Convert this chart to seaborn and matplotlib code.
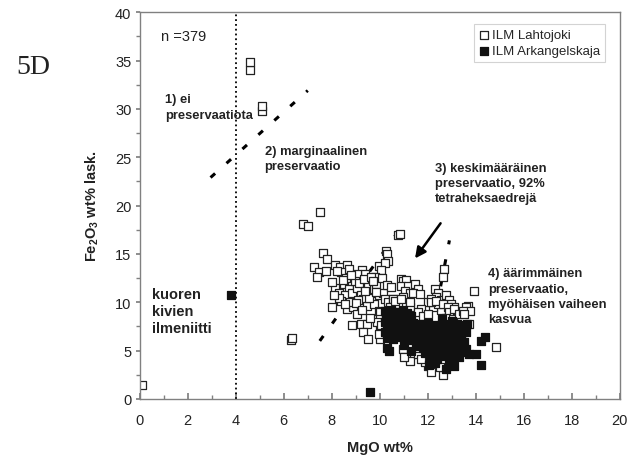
import pandas as pd
import seaborn as sns
import matplotlib.pyplot as plt
from matplotlib.ticker import MultipleLocator

sns.set_theme(style="white")
plt.rcParams['font.family'] = ['Liberation Sans', 'DejaVu Sans']
plt.rcParams['mathtext.fontset'] = 'custom'
plt.rcParams['mathtext.rm'] = 'Liberation Sans'
plt.rcParams['mathtext.bf'] = 'Liberation Sans:bold'

# ILM Lahtojoki (open squares)
lahto_x = [0.1, 4.6, 4.6, 5.1, 5.1, 6.3, 6.35, 6.8, 7.0, 7.5, 10.75, 10.85,
           10.25, 10.3, 10.35, 7.65, 7.8, 7.25, 7.45, 7.75, 7.4,
           8.15, 8.35, 8.65, 8.7, 8.4, 8.2, 9.25, 9.4, 9.05, 9.95, 10.2, 10.05, 9.8,
           8.15, 8.3, 8.5, 8.7, 8.55, 8.85, 9.05, 9.2, 9.3, 9.5, 9.6, 9.75, 9.95,
           10.15, 10.2, 10.35, 10.55,
           7.99, 8.4, 8.65, 8.9, 9.05, 9.45, 9.75, 9.95, 10.0,
           8.85, 9.2, 9.45, 9.3, 9.5, 10.0, 10.0, 10.0, 8.0, 9.9, 10.05, 9.95,
           8.6, 8.95, 9.15, 9.35, 9.65, 9.85, 8.45, 8.8, 9.1, 9.55, 9.7, 10.1,
           8.3, 8.75, 9.0, 9.4, 9.85, 10.3, 8.1, 8.55, 9.25, 9.6, 10.25, 10.45,
           10.9, 10.97, 11.1, 10.9, 11.18, 11.04, 11.25, 11.46, 11.59, 11.39, 11.66,
           10.97, 12.67, 12.63,
           12.28, 12.42, 12.35, 12.56, 12.77, 12.9, 12.97, 12.84, 13.04, 12.56,
           12.22, 12.42, 13.1, 13.66, 12.0, 12.15, 11.73, 11.25, 10.77, 10.56, 10.42,
           13.59, 13.73, 13.94, 14.84, 13.75,
           10.63, 10.9, 11.25, 11.59, 11.8, 12.0, 12.14, 12.35, 12.63, 12.84, 12.9,
           13.11, 12.77, 13.04, 13.3, 13.45, 13.52,
           11.18, 11.32, 11.11, 11.25, 11.6, 12.01, 12.15, 12.63, 13.04, 12.35,
           11.87, 11.73, 11.53, 10.97, 11.0, 12.5]
lahto_y = [1.4, 34.0, 34.8, 29.8, 30.3, 6.1, 6.3, 18.1, 17.9, 19.3, 17.0, 17.1,
           15.3, 15.0, 14.3, 15.1, 14.5, 13.6, 13.1, 13.25, 12.6,
           13.9, 13.6, 13.9, 13.4, 13.1, 13.25, 13.3, 12.9, 12.9, 13.8, 14.1, 13.3, 12.6,
           11.5, 11.0, 11.9, 11.4, 10.7, 11.0, 11.5, 10.7, 10.3, 11.7, 11.0, 11.4, 10.7,
           11.0, 10.3, 10.0, 10.3,
           9.5, 10.1, 9.3, 9.5, 8.8, 9.65, 9.8, 9.1, 9.0,
           7.6, 7.75, 7.75, 6.9, 6.2, 8.3, 7.1, 6.2, 12.1, 8.0, 7.6, 6.7,
           12.5, 12.2, 12.0, 12.4, 12.6, 11.9, 12.3, 12.8, 10.2, 10.4, 12.2, 12.5,
           10.4, 10.0, 9.9, 11.2, 11.1, 11.8, 10.8, 9.8, 9.2, 8.4, 8.9, 11.6,
           12.4, 12.2, 12.3, 11.7, 11.7, 11.2, 11.0, 11.9, 11.4, 11.0, 10.85,
           10.5, 13.4, 12.6,
           11.4, 11.0, 10.5, 10.2, 10.7, 10.2, 9.8, 9.3, 9.15, 9.15,
           9.5, 9.8, 9.5, 9.65, 10.0, 10.3, 9.3, 9.5, 9.8, 10.3, 9.5,
           9.5, 7.75, 11.2, 5.4, 9.1,
           10.16, 10.3, 10.0, 9.0, 8.6, 8.8, 10.0, 10.16, 9.8, 9.5, 9.0,
           9.3, 8.4, 8.3, 8.8, 9.1, 8.8,
           4.5, 4.65, 4.8, 3.97, 4.65, 3.45, 2.75, 2.5, 3.97, 4.5,
           3.8, 4.1, 5.3, 5.2, 4.3, 3.3]

# ILM Arkangelskaja (filled squares)
arka_x = [3.8, 9.6,
          10.2, 10.45, 10.7, 10.95, 11.15, 10.25, 10.5, 10.8, 11.05, 11.3,
          10.2, 10.4, 10.65, 10.9, 11.2, 10.3, 10.55, 10.8, 11.0, 11.25,
          10.2, 10.45, 10.7, 10.95, 11.2, 10.3, 10.55, 10.8, 11.05, 10.3, 10.4,
          11.4, 11.7, 12.0, 12.3, 12.6, 12.9, 13.2, 13.45,
          11.5, 11.8, 12.1, 12.4, 12.7, 13.0, 13.3, 13.6,
          11.3, 11.6, 11.9, 12.2, 12.5, 12.8, 13.1, 13.4,
          11.4, 11.7, 12.0, 12.3, 12.6, 12.9, 13.2, 13.5,
          11.5, 11.8, 12.1, 12.4, 12.7, 13.0, 13.3, 13.6,
          11.9, 12.2, 12.5, 12.8, 13.1, 13.4, 13.7,
          12.1, 12.4, 12.7, 13.0, 13.3, 12.3, 12.9, 13.1,
          14.0, 14.2, 14.2, 14.4, 13.2, 13.4, 11.3, 11.0, 12.05,
          12.6, 13.0, 12.75, 13.65]
arka_y = [10.8, 0.7,
          9.1, 9.2, 9.0, 9.15, 8.9, 8.6, 8.45, 8.65, 8.4, 8.6,
          8.0, 7.85, 8.1, 7.9, 8.05, 7.4, 7.55, 7.3, 7.5, 7.35,
          6.9, 6.8, 7.0, 6.75, 6.95, 6.35, 6.2, 6.45, 6.3, 5.3, 5.0,
          7.9, 7.7, 7.9, 7.6, 7.8, 7.7, 7.8, 7.6,
          7.3, 7.1, 7.35, 7.2, 7.0, 7.25, 7.1, 6.9,
          6.7, 6.55, 6.8, 6.6, 6.5, 6.7, 6.45, 6.6,
          6.1, 5.95, 6.2, 5.9, 6.0, 5.85, 6.1, 5.9,
          5.5, 5.3, 5.55, 5.35, 5.45, 5.3, 5.5, 5.2,
          4.8, 4.95, 4.7, 4.85, 4.7, 4.9, 4.6,
          4.3, 4.15, 4.4, 4.2, 4.35, 3.7, 3.8, 3.4,
          4.65, 3.5, 6.0, 6.4, 7.2, 6.2, 5.0, 5.6, 3.5,
          8.3, 8.1, 3.1, 7.75]

# guide lines between preservation fields
guide1_x, guide1_y = [2.95, 7.0], [22.9, 31.9]
guide2_x, guide2_y = [7.5, 10.65], [6.0, 16.9]
guide3_x, guide3_y = [12.2, 12.9], [7.3, 16.4]

lahto = pd.DataFrame({'MgO': lahto_x, 'Fe2O3': lahto_y})
arka = pd.DataFrame({'MgO': arka_x, 'Fe2O3': arka_y})

fig, ax = plt.subplots(figsize=(6.41, 4.56), dpi=100)
fig.subplots_adjust(left=0.218, right=0.967, bottom=0.123, top=0.971)

ax.axvline(4, color='black', ls=':', lw=1.3, zorder=1)
for gx, gy in [(guide1_x, guide1_y), (guide2_x, guide2_y), (guide3_x, guide3_y)]:
    ax.plot(gx, gy, color='black', lw=2.2, ls=(0, (2, 5)), zorder=1)

sns.scatterplot(data=lahto, x='MgO', y='Fe2O3', marker='s', s=30, color='white',
                edgecolor='#222222', linewidth=0.9, label='ILM Lahtojoki', ax=ax, zorder=2)
sns.scatterplot(data=arka, x='MgO', y='Fe2O3', marker='s', s=30, color='#111111',
                edgecolor='#111111', linewidth=0.9, label='ILM Arkangelskaja', ax=ax, zorder=3)

ax.annotate('', xy=(11.4, 14.3), xytext=(12.6, 18.4),
            arrowprops=dict(arrowstyle='-|>', lw=1.8, color='black', mutation_scale=16))

ax.set_xlim(0, 20)
ax.set_ylim(0, 40)
ax.xaxis.set_major_locator(MultipleLocator(2))
ax.xaxis.set_minor_locator(MultipleLocator(1))
ax.yaxis.set_major_locator(MultipleLocator(5))
ax.yaxis.set_minor_locator(MultipleLocator(2.5))
ax.tick_params(axis='x', which='both', direction='in', bottom=True, colors='#808080',
               labelcolor='#222222', labelsize=10.5, pad=10)
ax.tick_params(axis='x', which='major', length=4)
ax.tick_params(axis='x', which='minor', length=3)
ax.tick_params(axis='y', which='both', direction='out', left=True, colors='#808080',
               labelcolor='#222222', labelsize=10.5, length=3, pad=3)
for sp in ax.spines.values():
    sp.set_color('#808080')
    sp.set_linewidth(1.0)

ax.set_xlabel('MgO wt%', fontsize=10.5, fontweight='bold', color='#222222')
ax.set_ylabel(r'$\mathbf{Fe_2O_3}$ wt% lask.', fontsize=10.5, fontweight='bold', color='#222222')
ax.xaxis.set_label_coords(0.5, -0.105)
ax.yaxis.set_label_coords(-0.08, 0.5)

bold = dict(fontsize=9.3, fontweight='bold', color='#222222', linespacing=1.35, va='top')
ax.text(0.9, 37.5, 'n =379', fontsize=10.5, color='#222222', va='center')
ax.text(1.05, 31.6, '1) ei\npreservaatiota', **bold)
ax.text(5.2, 26.3, '2) marginaalinen\npreservaatio', **bold)
ax.text(12.3, 24.5, '3) keskimääräinen\npreservaatio, 92%\ntetraheksaedrejä', **bold)
ax.text(14.5, 13.6, '4) äärimmäinen\npreservaatio,\nmyöhäisen vaiheen\nkasvua', **bold)
ax.text(0.5, 11.6, 'kuoren\nkivien\nilmeniitti', fontsize=10.5, fontweight='bold',
        color='#222222', linespacing=1.3, va='top')

fig.text(0.026, 0.853, '5D', fontsize=20, family='Liberation Serif', va='center', color='#222222')

leg = ax.legend(loc='upper right', bbox_to_anchor=(0.969, 0.969), borderaxespad=0,
                fontsize=9.5, frameon=True, fancybox=False, handletextpad=0.2,
                handlelength=0.8, borderpad=0.35, labelspacing=0.3)
leg.get_frame().set_edgecolor('#c8c8c8')
leg.get_frame().set_linewidth(0.8)

fig.savefig('out.png', dpi=100)
